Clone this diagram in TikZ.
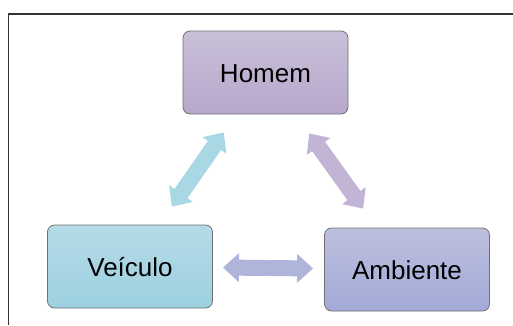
\documentclass[tikz,border=0pt]{standalone}
\usepackage{xcolor}
\usepackage{fontspec}
\setmainfont{Liberation Sans}
\usetikzlibrary{positioning,arrows.meta}

\definecolor{homemtop}{HTML}{C9C0D9}
\definecolor{homembot}{HTML}{B7A7CB}
\definecolor{veictop}{HTML}{B6DAE7}
\definecolor{veicbot}{HTML}{9CD1E0}
\definecolor{ambtop}{HTML}{BCC0DE}
\definecolor{ambbot}{HTML}{A3A9D7}
\definecolor{boxline}{HTML}{707070}
\definecolor{cyanlink}{HTML}{A9D8E5}
\definecolor{lilaclink}{HTML}{C2B4D4}
\definecolor{bluelink}{HTML}{AFB4DB}

\begin{document}
\begin{tikzpicture}[x=1pt,y=-1pt,on grid,
  box/.style={draw=boxline,line width=0.8pt,rounded corners=7pt,
    minimum width=165pt,minimum height=83pt,
    text height=19pt,text depth=0pt,font=\fontsize{26}{30}\selectfont},
  link/.style={line width=16pt,
    {Triangle[length=16pt,width=28pt]}-{Triangle[length=16pt,width=28pt]}}]
\useasboundingbox (0,0) rectangle (513,325);
\draw[line width=1.2pt,black!80] (8.5,325) |- (513,14);

\node[box,top color=homemtop,bottom color=homembot] (homem) at (265.5,72.5) {Homem};
\node[box,top color=veictop,bottom color=veicbot,below left=194pt and 135.5pt of homem] (veiculo) {Veículo};
\node[box,top color=ambtop,bottom color=ambbot,below right=197pt and 141.5pt of homem] (ambiente) {Ambiente};

\draw[link,cyanlink,shorten <=73pt,shorten >=73pt] (veiculo.center) -- (homem.center);
\draw[link,lilaclink,shorten <=75pt,shorten >=75pt] (homem.center) -- (ambiente.center);
\draw[link,bluelink,shorten <=10pt,shorten >=11pt] (veiculo) -- (ambiente);
\end{tikzpicture}
\end{document}
